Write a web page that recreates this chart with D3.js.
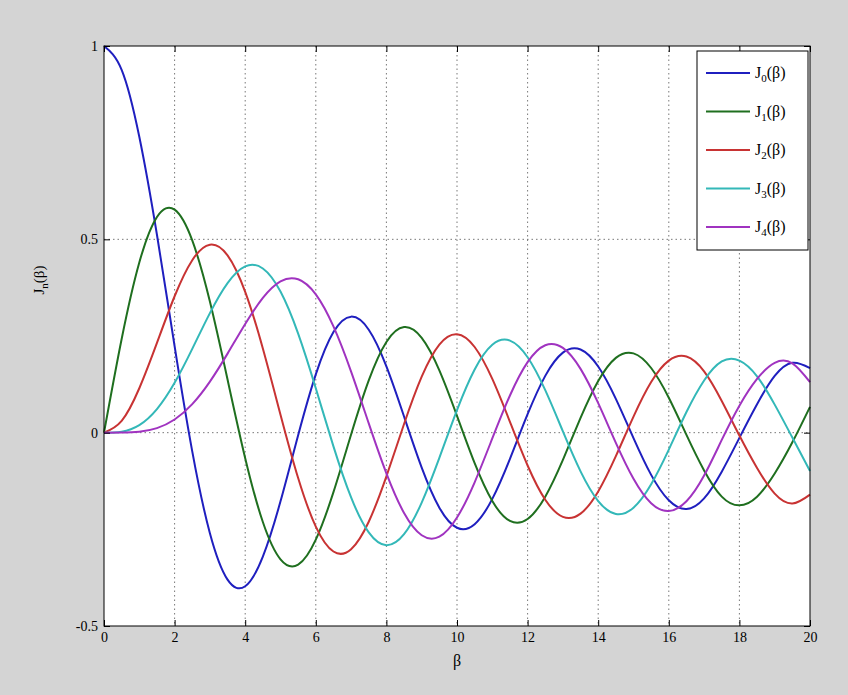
<!DOCTYPE html><html><head><script src="https://cdn.jsdelivr.net/npm/d3@7"></script>
<style>body{margin:0;background:#d4d4d4}text{font-family:"Liberation Serif",serif}</style></head><body>
<svg id="c" width="848" height="695"></svg>
<script>
const xs=d3.range(0,20.01,0.5);
const J0=[1,0.9385,0.7652,0.5118,0.2239,-0.0484,-0.2601,-0.3801,-0.3971,-0.3205,-0.1776,-0.0068,0.1506,0.2601,0.3001,0.2663,0.1717,0.0419,-0.0903,-0.1939,-0.2459,-0.2366,-0.1712,-0.0677,0.0477,0.1469,0.2069,0.2150,0.1711,0.0875,-0.0142,-0.1092,-0.1749,-0.1975,-0.1699,-0.1008,-0.0134,0.0736,0.1466,0.1807,0.1670];
const J1=[0,0.2423,0.4401,0.5579,0.5767,0.4971,0.3391,0.1374,-0.0660,-0.2311,-0.3276,-0.3414,-0.2767,-0.1538,-0.0047,0.1352,0.2346,0.2731,0.2453,0.1613,0.0435,-0.0789,-0.1768,-0.2284,-0.2234,-0.1655,-0.0703,0.0380,0.1334,0.1934,0.2051,0.1672,0.0904,-0.0057,-0.0977,-0.1654,-0.1880,-0.1655,-0.1057,-0.0250,0.0668];
const J2=[0,0.0306,0.1149,0.2321,0.3528,0.4461,0.4862,0.4586,0.3641,0.2178,0.0466,-0.1173,-0.2429,-0.3074,-0.3014,-0.2303,-0.1130,0.0224,0.1448,0.2279,0.2546,0.2216,0.1390,0.0280,-0.0849,-0.1734,-0.2177,-0.2094,-0.1520,-0.0608,0.0415,0.1308,0.1862,0.1968,0.1584,0.0819,-0.0075,-0.0915,-0.1577,-0.1833,-0.1603];
const J3=[0,0.0026,0.0196,0.0610,0.1289,0.2166,0.3092,0.3867,0.4301,0.4247,0.3649,0.2561,0.1148,-0.0354,-0.1675,-0.2580,-0.2911,-0.2626,-0.1809,-0.0653,0.0583,0.1633,0.2273,0.2381,0.1951,0.1100,0.0033,-0.1000,-0.1768,-0.2102,-0.1940,-0.1334,-0.0438,0.0534,0.1350,0.1841,0.1863,0.1457,0.0725,-0.0126,-0.0989];
const J4=[0,0.0002,0.0025,0.0118,0.0340,0.0738,0.1320,0.2044,0.2811,0.3485,0.3913,0.3967,0.3577,0.2747,0.1578,0.0239,-0.1053,-0.2078,-0.2654,-0.2691,-0.2196,-0.1283,-0.0150,0.0962,0.1825,0.2262,0.2192,0.1650,0.0762,-0.0262,-0.1191,-0.1824,-0.2026,-0.1774,-0.1108,-0.0188,0.0696,0.1388,0.1806,0.1794,0.1306];
const series=[J0,J1,J2,J3,J4];
const names=["0","1","2","3","4"];
const colors=["#1f1fbf","#1f6f1f","#c83333","#33b8b8","#a033c0"];
const xTicks=d3.range(0,21,2), yTicks=[-0.5,0,0.5,1], yLabels=["-0.5","0","0.5","1"];
const svg=d3.select("#c");
const L=104,R=810,T=46,B=626;
const x=d3.scaleLinear().domain([0,20]).range([L,R]);
const y=d3.scaleLinear().domain([-0.5,1]).range([B,T]);
svg.append("rect").attr("x",L).attr("y",T).attr("width",R-L).attr("height",B-T).attr("fill","#fff");
const g=svg.append("g");
xTicks.slice(1,-1).forEach(t=>g.append("line").attr("x1",x(t)).attr("x2",x(t)).attr("y1",T).attr("y2",B).attr("stroke","#555").attr("stroke-width",0.8).attr("stroke-dasharray","1.5,3"));
yTicks.slice(1,-1).forEach(t=>g.append("line").attr("x1",L).attr("x2",R).attr("y1",y(t)).attr("y2",y(t)).attr("stroke","#555").attr("stroke-width",0.8).attr("stroke-dasharray","1.5,3"));
const line=d3.line().x((d,i)=>x(xs[i])).y(d=>y(d)).curve(d3.curveNatural);
series.forEach((s,k)=>svg.append("path").attr("d",line(s)).attr("fill","none").attr("stroke",colors[k]).attr("stroke-width",2));
svg.append("rect").attr("x",L).attr("y",T).attr("width",R-L).attr("height",B-T).attr("fill","none").attr("stroke","#000");
const xa=svg.append("g").attr("transform",`translate(0,${B})`).call(d3.axisBottom(x).tickValues(xTicks).tickSize(-6).tickPadding(6).tickFormat(d3.format("d")));
const xa2=svg.append("g").attr("transform",`translate(0,${T})`).call(d3.axisTop(x).tickValues(xTicks).tickSize(-6).tickFormat(""));
const ya=svg.append("g").attr("transform",`translate(${L},0)`).call(d3.axisLeft(y).tickValues(yTicks).tickSize(-6).tickPadding(6).tickFormat((d,i)=>yLabels[i]));
const ya2=svg.append("g").attr("transform",`translate(${R},0)`).call(d3.axisRight(y).tickValues(yTicks).tickSize(-6).tickFormat(""));
[xa,xa2,ya,ya2].forEach(a=>{a.select(".domain").remove();a.selectAll("text").attr("font-size",14).attr("font-family","Liberation Serif").attr("fill","#000");});
svg.append("text").attr("x",(L+R)/2).attr("y",666).attr("text-anchor","middle").attr("font-size",16).text("β");
const yl=svg.append("text").attr("transform","translate(44,280) rotate(-90)").attr("text-anchor","middle").attr("font-size",15);
yl.append("tspan").text("J");yl.append("tspan").attr("font-size",11).attr("dy",4).text("n");yl.append("tspan").attr("dy",-4).text("(β)");
const lg=svg.append("g");
lg.append("rect").attr("x",697).attr("y",51).attr("width",111).attr("height",199).attr("fill","#fff").attr("stroke","#000");
names.forEach((n,k)=>{const yy=73+k*38.5;
lg.append("line").attr("x1",706).attr("x2",750).attr("y1",yy).attr("y2",yy).attr("stroke",colors[k]).attr("stroke-width",2);
const t=lg.append("text").attr("x",755).attr("y",yy+5).attr("font-size",16);
t.append("tspan").text("J");t.append("tspan").attr("font-size",11).attr("dy",4).text(n);t.append("tspan").attr("dy",-4).text("(β)");});
</script></body></html>
